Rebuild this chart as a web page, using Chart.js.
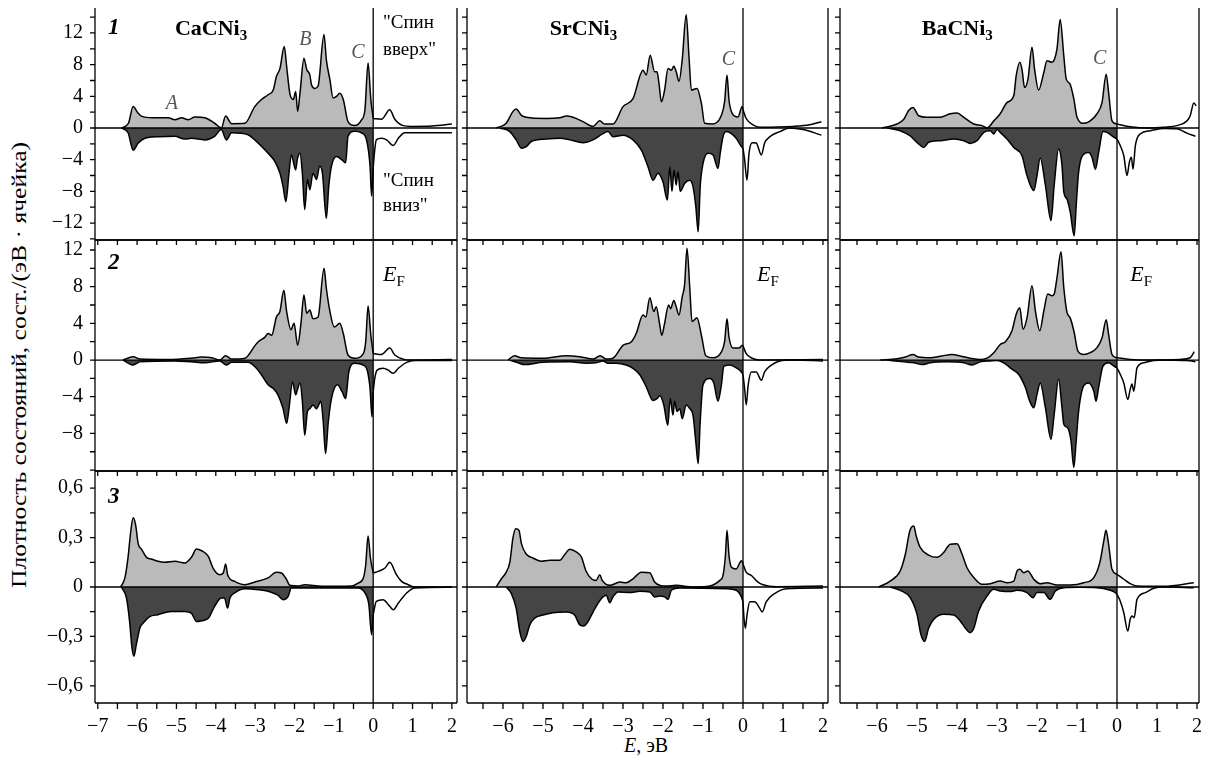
<!DOCTYPE html>
<html>
<head>
<meta charset="utf-8">
<script src="https://cdn.jsdelivr.net/npm/chart.js@4.4.1/dist/chart.umd.min.js"></script>
<style>
body{margin:0;background:#fff;width:1207px;height:760px;position:relative;overflow:hidden;font-family:"Liberation Serif",serif}
canvas{position:absolute}
#ytitle{position:absolute;left:19px;top:365px;transform:translate(-50%,-50%) rotate(-90deg) scaleX(1.28);white-space:nowrap;font-size:20px}
#xtitle{position:absolute;left:646px;top:745px;transform:translate(-50%,-50%);white-space:nowrap;font-size:20px}
</style>
</head>
<body>
<div id="ytitle">Плотность состояний, сост./(эВ · ячейка)</div>
<div id="xtitle"><i>E</i>, эВ</div>
<script>

// ---- DATA: [E (эВ), DOS] pairs ----
// row 1 (total DOS)
const ca1Up = [[-6.40,0],[-6.22,0.6],[-6.10,2.7],[-5.98,1.9],[-5.89,1.5],[-5.60,1.3],[-5.21,1.3],[-5.04,1.05],[-4.87,1.3],[-4.70,1.05],[-4.53,1.4],[-4.28,1.3],[-4.03,0.6],[-3.86,0],[-3.75,1.5],[-3.60,0.55],[-3.26,0.6],[-3.01,2.7],[-2.84,3.6],[-2.67,4.2],[-2.54,4.8],[-2.46,6.5],[-2.37,7.5],[-2.26,10.3],[-2.20,7.8],[-2.12,4.4],[-2.03,3.6],[-1.97,4.6],[-1.92,2.1],[-1.86,4.4],[-1.76,8.8],[-1.69,7.4],[-1.61,6.7],[-1.57,5.5],[-1.48,5.0],[-1.40,5.3],[-1.25,11.8],[-1.19,8.6],[-1.10,6.1],[-1.02,3.8],[-0.93,4.0],[-0.85,4.4],[-0.76,3.6],[-0.64,0.8],[-0.47,0.3],[-0.30,1.0],[-0.21,2.3],[-0.13,8.2],[-0.06,3.6],[0,1.2],[0.21,1.1],[0.42,2.3],[0.55,1.1],[0.76,0.3],[0.97,0.2],[1.5,0.25],[2.0,0.5]]
const ca1Dn = [[-6.40,0],[-6.23,-0.6],[-6.10,-2.8],[-5.97,-1.9],[-5.80,-1.3],[-5.46,-1.1],[-5.04,-1.05],[-4.79,-1.4],[-4.62,-1.3],[-4.28,-1.5],[-4.03,-1.05],[-3.86,-0.2],[-3.73,-1.5],[-3.60,-0.6],[-3.18,-0.85],[-3.01,-1.5],[-2.84,-2.3],[-2.67,-3.2],[-2.50,-4.2],[-2.37,-5.7],[-2.29,-7.4],[-2.22,-9.3],[-2.14,-5.7],[-2.08,-3.4],[-1.97,-5.3],[-1.93,-4.0],[-1.86,-3.2],[-1.80,-5.7],[-1.74,-10.3],[-1.67,-6.5],[-1.61,-7.8],[-1.53,-5.7],[-1.44,-6.5],[-1.36,-4.8],[-1.29,-5.7],[-1.19,-11.4],[-1.13,-7.4],[-1.06,-4.8],[-0.93,-3.6],[-0.80,-4.0],[-0.70,-4.4],[-0.64,-1.05],[-0.47,-0.4],[-0.30,-0.6],[-0.17,-1.5],[-0.08,-4.8],[-0.04,-8.6],[0,-5.0],[0.03,-3.2],[0.08,-1.5],[0.21,-1.3],[0.34,-1.5],[0.51,-2.2],[0.64,-1.3],[0.80,-0.6],[1.15,-0.6],[2.0,-0.6]]
const sr1Up = [[-6.17,0],[-5.92,0.6],[-5.75,2.1],[-5.67,2.4],[-5.54,1.6],[-5.42,1.35],[-4.92,1.2],[-4.58,1.3],[-4.42,1.5],[-4.25,1.35],[-4.0,0.8],[-3.75,0.2],[-3.58,0.9],[-3.46,0.5],[-3.25,0.5],[-3.0,2.7],[-2.75,3.7],[-2.5,7.3],[-2.42,6.7],[-2.32,9.2],[-2.21,7.1],[-2.15,7.1],[-2.1,5.6],[-2.04,3.3],[-1.96,4.8],[-1.875,7.5],[-1.79,7.3],[-1.73,7.8],[-1.67,7.1],[-1.6,5.9],[-1.52,8.6],[-1.42,14.3],[-1.35,9.0],[-1.29,4.8],[-1.15,5.0],[-1.04,3.1],[-0.96,0.6],[-0.75,0.5],[-0.54,1.6],[-0.46,3.3],[-0.4,6.7],[-0.35,3.5],[-0.27,1.85],[-0.125,1.4],[-0.02,2.7],[0,2.3],[0.08,1.2],[0.25,0.4],[0.42,0.1],[1.25,0.2],[1.67,0.4],[1.96,0.8]]
const sr1Dn = [[-6.08,0],[-5.83,-0.45],[-5.67,-1.5],[-5.54,-2.55],[-5.42,-2.35],[-5.29,-1.7],[-4.92,-1.4],[-4.58,-1.3],[-4.33,-1.5],[-4.0,-1.85],[-3.75,-1.5],[-3.5,-0.7],[-3.375,-0.45],[-3.25,-1.1],[-3.0,-0.9],[-2.75,-1.5],[-2.54,-2.8],[-2.375,-4.9],[-2.25,-6.6],[-2.125,-5.7],[-2.0,-6.8],[-1.89,-9.1],[-1.83,-4.9],[-1.775,-8.0],[-1.725,-5.3],[-1.67,-7.2],[-1.625,-5.5],[-1.57,-8.0],[-1.46,-7.0],[-1.33,-6.6],[-1.25,-7.4],[-1.18,-9.9],[-1.12,-13.1],[-1.07,-7.4],[-1.0,-4.5],[-0.875,-3.2],[-0.75,-3.4],[-0.625,-5.1],[-0.57,-3.2],[-0.5,-1.1],[-0.42,-0.45],[-0.29,-0.7],[-0.17,-1.3],[-0.04,-2.35],[0,-2.55],[0.04,-4.0],[0.1,-6.6],[0.15,-3.2],[0.23,-1.85],[0.33,-1.9],[0.46,-3.4],[0.54,-1.9],[0.67,-1.1],[0.92,-0.45],[1.17,0],[1.5,-0.2],[1.96,-0.9]]
const ba1Up = [[-5.875,0],[-5.5,0.5],[-5.33,1.1],[-5.21,2.2],[-5.1,2.6],[-4.96,1.55],[-4.75,1.35],[-4.42,1.35],[-4.17,1.8],[-4.0,1.9],[-3.83,1.35],[-3.58,0.5],[-3.375,0.3],[-3.25,0],[-3.08,0.9],[-2.92,1.8],[-2.75,3.2],[-2.58,4.1],[-2.52,6.6],[-2.43,8.3],[-2.375,7.4],[-2.31,5.1],[-2.225,6.2],[-2.125,10.2],[-2.06,7.4],[-1.96,4.8],[-1.83,7.0],[-1.75,8.5],[-1.625,8.3],[-1.57,8.6],[-1.5,10.0],[-1.42,13.7],[-1.33,9.1],[-1.27,6.2],[-1.18,5.6],[-1.08,3.7],[-1.0,1.35],[-0.83,0.6],[-0.67,0.9],[-0.5,1.8],[-0.375,3.2],[-0.27,6.8],[-0.21,4.5],[-0.125,0.9],[0,0.5],[0.33,0.15],[0.83,0],[1.17,0.1],[1.5,0.3],[1.75,0.9],[1.83,1.55],[1.92,3.15],[1.98,2.8]]
const ba1Dn = [[-5.75,0],[-5.42,-0.35],[-5.17,-1.0],[-4.96,-2.0],[-4.83,-2.45],[-4.71,-1.8],[-4.42,-1.6],[-4.08,-1.4],[-3.83,-1.6],[-3.67,-1.95],[-3.5,-1.6],[-3.33,-0.55],[-3.17,-0.35],[-3.08,-0.75],[-3.0,-0.2],[-2.92,-0.55],[-2.75,-1.4],[-2.58,-2.45],[-2.375,-3.5],[-2.25,-6.0],[-2.08,-7.9],[-2.0,-6.0],[-1.92,-3.8],[-1.79,-7.2],[-1.65,-11.7],[-1.57,-7.2],[-1.46,-2.65],[-1.375,-4.75],[-1.33,-8.1],[-1.25,-9.0],[-1.17,-10.6],[-1.07,-13.6],[-1.02,-9.8],[-0.96,-5.6],[-0.83,-3.3],[-0.71,-3.1],[-0.625,-3.7],[-0.54,-5.2],[-0.46,-3.1],[-0.35,-0.45],[-0.25,-0.55],[-0.125,-1.0],[0,-1.4],[0.08,-2.2],[0.17,-3.5],[0.25,-6.0],[0.31,-4.3],[0.36,-3.7],[0.4,-5.2],[0.46,-2.2],[0.58,-0.75],[0.83,-0.35],[1.17,-0.05],[1.5,-0.1],[1.75,-0.65],[1.96,-1.05]]
// row 2
const ca2Up = [[-6.36,0],[-6.1,0.36],[-5.93,0.1],[-5.2,0.05],[-4.62,0.2],[-4.36,0.33],[-4.1,0.25],[-3.9,0],[-3.75,0.47],[-3.6,0.1],[-3.26,0.2],[-3.0,1.6],[-2.92,2.0],[-2.75,2.5],[-2.67,2.9],[-2.58,2.7],[-2.46,4.7],[-2.37,5.3],[-2.27,7.6],[-2.2,5.3],[-2.09,3.3],[-2.01,4.0],[-1.92,1.6],[-1.84,3.8],[-1.76,7.1],[-1.69,5.1],[-1.61,5.45],[-1.53,4.5],[-1.40,4.7],[-1.25,10.0],[-1.19,7.8],[-1.10,5.3],[-0.99,3.6],[-0.85,4.0],[-0.76,2.9],[-0.64,0.55],[-0.47,0.2],[-0.25,0.7],[-0.19,2.0],[-0.13,5.9],[-0.06,2.7],[0,0.7],[0.21,0.6],[0.42,1.3],[0.55,0.55],[0.76,0.1],[0.97,0],[2.0,0.05]]
const ca2Dn = [[-6.36,0],[-6.1,-0.55],[-5.93,-0.2],[-5.04,-0.1],[-4.62,-0.2],[-4.28,-0.3],[-3.9,-0.1],[-3.73,-0.55],[-3.6,-0.25],[-3.18,-0.25],[-3.01,-0.7],[-2.84,-1.6],[-2.67,-2.7],[-2.54,-3.1],[-2.42,-3.8],[-2.29,-5.3],[-2.20,-6.9],[-2.14,-5.3],[-2.05,-2.4],[-1.97,-3.8],[-1.93,-3.3],[-1.86,-2.5],[-1.80,-4.5],[-1.74,-8.2],[-1.67,-5.6],[-1.61,-5.3],[-1.53,-4.9],[-1.44,-5.3],[-1.33,-4.5],[-1.27,-6.7],[-1.21,-10.2],[-1.14,-6.7],[-1.06,-4.2],[-0.91,-2.7],[-0.79,-3.45],[-0.70,-4.2],[-0.62,-1.3],[-0.47,-0.35],[-0.25,-0.55],[-0.14,-1.3],[-0.08,-3.1],[-0.03,-6.2],[0,-3.45],[0.04,-2.0],[0.1,-1.1],[0.25,-0.9],[0.38,-1.1],[0.51,-1.45],[0.64,-0.9],[0.85,-0.25],[1.06,-0.05],[2.0,-0.05]]
const sr2Up = [[-5.875,0],[-5.71,0.47],[-5.55,0.25],[-5.0,0.2],[-4.42,0.47],[-4.08,0.36],[-3.75,0.1],[-3.57,0.47],[-3.42,0.1],[-3.25,0.2],[-3.0,1.6],[-2.79,2.0],[-2.67,2.9],[-2.5,4.9],[-2.43,4.7],[-2.33,6.8],[-2.23,5.3],[-2.17,5.8],[-2.08,3.8],[-2.03,2.7],[-1.96,4.0],[-1.86,6.0],[-1.81,5.6],[-1.73,6.5],[-1.67,5.8],[-1.6,4.9],[-1.52,6.9],[-1.46,8.2],[-1.4,12.2],[-1.33,7.8],[-1.275,4.2],[-1.15,4.6],[-1.04,2.7],[-0.93,0.47],[-0.75,0.25],[-0.54,0.9],[-0.46,2.0],[-0.4,4.5],[-0.35,2.5],[-0.25,1.3],[-0.1,1.3],[-0.02,1.6],[0,1.55],[0.08,0.7],[0.23,0.2],[0.42,0],[2.0,0.05]]
const sr2Dn = [[-5.83,0],[-5.625,-0.3],[-5.46,-0.5],[-5.0,-0.25],[-4.33,-0.2],[-3.92,-0.35],[-3.67,-0.3],[-3.5,-0.1],[-3.375,-0.36],[-3.17,-0.36],[-2.92,-0.55],[-2.75,-0.9],[-2.58,-1.6],[-2.42,-2.9],[-2.25,-4.4],[-2.15,-4.2],[-2.08,-3.9],[-1.98,-4.9],[-1.88,-7.1],[-1.82,-4.2],[-1.75,-6.0],[-1.71,-4.5],[-1.65,-5.6],[-1.58,-5.3],[-1.52,-6.4],[-1.42,-4.9],[-1.33,-5.3],[-1.25,-6.0],[-1.18,-8.9],[-1.12,-11.3],[-1.07,-6.7],[-1.0,-2.7],[-0.83,-2.0],[-0.73,-2.5],[-0.625,-4.5],[-0.54,-2.7],[-0.48,-0.7],[-0.33,-0.55],[-0.17,-0.85],[-0.04,-1.3],[0,-1.6],[0.04,-3.1],[0.08,-4.9],[0.13,-2.7],[0.21,-1.3],[0.33,-1.3],[0.46,-2.2],[0.54,-1.3],[0.71,-0.55],[0.92,-0.1],[1.25,0],[2.0,-0.1]]
const ba2Up = [[-5.92,0],[-5.5,0.15],[-5.29,0.33],[-5.1,0.6],[-4.96,0.33],[-4.67,0.25],[-4.375,0.45],[-4.125,0.6],[-3.92,0.45],[-3.67,0.2],[-3.42,0.05],[-3.25,0.2],[-3.08,0.8],[-2.92,1.7],[-2.79,2.0],[-2.625,3.2],[-2.52,5.0],[-2.43,5.7],[-2.35,3.35],[-2.25,4.6],[-2.125,8.1],[-2.04,5.35],[-1.93,3.2],[-1.83,5.35],[-1.73,7.2],[-1.625,7.0],[-1.57,7.2],[-1.5,9.0],[-1.4,11.8],[-1.33,7.9],[-1.25,5.2],[-1.17,4.6],[-1.07,3.0],[-0.98,1.0],[-0.83,0.6],[-0.67,0.8],[-0.5,1.35],[-0.375,2.4],[-0.27,4.4],[-0.21,2.8],[-0.125,0.6],[0,0.25],[0.33,0.07],[0.83,0],[1.58,0.07],[1.83,0.25],[1.93,0.9]]
const ba2Dn = [[-5.75,0],[-5.33,-0.2],[-5.08,-0.3],[-4.875,-0.5],[-4.67,-0.3],[-4.25,-0.2],[-3.83,-0.3],[-3.625,-0.55],[-3.42,-0.2],[-3.17,-0.1],[-3.0,-0.05],[-2.83,-0.3],[-2.625,-1.0],[-2.46,-1.55],[-2.29,-3.0],[-2.18,-4.5],[-2.08,-5.2],[-2.0,-3.75],[-1.92,-2.5],[-1.79,-5.2],[-1.65,-8.65],[-1.57,-5.9],[-1.46,-2.1],[-1.375,-5.2],[-1.33,-7.0],[-1.23,-7.4],[-1.15,-8.8],[-1.08,-11.7],[-1.02,-8.8],[-0.96,-5.6],[-0.83,-2.8],[-0.71,-2.5],[-0.58,-3.4],[-0.525,-4.5],[-0.46,-3.0],[-0.35,-0.65],[-0.21,-0.3],[-0.08,-0.65],[0,-0.85],[0.08,-1.55],[0.17,-2.5],[0.27,-4.3],[0.33,-3.2],[0.375,-2.6],[0.42,-3.4],[0.5,-0.85],[0.67,-0.3],[0.92,-0.05],[1.17,0],[1.67,-0.05],[1.875,-0.1],[1.96,-0.2]]
// row 3
const ca3Up = [[-6.42,0],[-6.31,0.055],[-6.23,0.18],[-6.16,0.34],[-6.1,0.42],[-6.04,0.38],[-5.97,0.26],[-5.89,0.23],[-5.76,0.18],[-5.64,0.17],[-5.47,0.156],[-5.3,0.15],[-5.04,0.156],[-4.79,0.146],[-4.62,0.18],[-4.49,0.23],[-4.36,0.22],[-4.19,0.186],[-4.07,0.115],[-3.9,0.075],[-3.81,0.085],[-3.75,0.14],[-3.7,0.075],[-3.52,0.034],[-3.26,0.014],[-3.01,0.03],[-2.67,0.055],[-2.46,0.09],[-2.33,0.085],[-2.2,0.045],[-2.12,0.01],[-1.91,0.006],[-1.74,0.014],[-1.3,0.004],[-0.55,0.006],[-0.38,0.024],[-0.25,0.055],[-0.19,0.135],[-0.13,0.31],[-0.07,0.176],[0,0.085],[0.13,0.095],[0.3,0.115],[0.42,0.15],[0.59,0.075],[0.72,0.034],[0.89,0.014],[1.06,0],[2.0,0]]
const ca3Dn = [[-6.4,0],[-6.27,-0.067],[-6.19,-0.21],[-6.13,-0.37],[-6.08,-0.42],[-6.02,-0.35],[-5.93,-0.25],[-5.81,-0.21],[-5.68,-0.18],[-5.47,-0.168],[-5.13,-0.148],[-4.79,-0.148],[-4.62,-0.158],[-4.49,-0.21],[-4.36,-0.205],[-4.19,-0.19],[-4.03,-0.117],[-3.86,-0.067],[-3.78,-0.067],[-3.7,-0.128],[-3.64,-0.067],[-3.52,-0.036],[-3.26,-0.01],[-2.92,-0.016],[-2.67,-0.026],[-2.42,-0.05],[-2.29,-0.077],[-2.16,-0.057],[-2.08,-0.006],[-1.65,-0.006],[-0.38,-0.006],[-0.21,-0.036],[-0.11,-0.107],[-0.04,-0.29],[0,-0.168],[0.08,-0.087],[0.25,-0.077],[0.42,-0.117],[0.51,-0.138],[0.64,-0.097],[0.85,-0.036],[1.06,-0.006],[2.0,-0.002]]
const sr3Up = [[-6.17,0],[-6.04,0.05],[-5.92,0.09],[-5.83,0.15],[-5.75,0.30],[-5.68,0.354],[-5.6,0.344],[-5.54,0.263],[-5.42,0.2],[-5.25,0.176],[-5.04,0.156],[-4.83,0.162],[-4.58,0.162],[-4.46,0.196],[-4.33,0.229],[-4.17,0.213],[-4.04,0.182],[-3.93,0.1],[-3.79,0.05],[-3.67,0.04],[-3.58,0.075],[-3.52,0.04],[-3.33,0.01],[-3.08,0.03],[-2.92,0.026],[-2.75,0.05],[-2.54,0.09],[-2.33,0.087],[-2.21,0.03],[-2.08,0.01],[-1.92,0.006],[-1.67,0.01],[-1.25,0.0],[-0.83,0.006],[-0.58,0.04],[-0.5,0.07],[-0.44,0.19],[-0.4,0.344],[-0.35,0.19],[-0.29,0.12],[-0.17,0.11],[-0.04,0.16],[0,0.14],[0.08,0.09],[0.21,0.07],[0.375,0.03],[0.5,0.014],[0.83,0.002],[2.0,0.006]]
const sr3Dn = [[-5.92,0],[-5.79,-0.04],[-5.67,-0.13],[-5.58,-0.27],[-5.5,-0.33],[-5.42,-0.3],[-5.33,-0.23],[-5.21,-0.19],[-5.0,-0.17],[-4.75,-0.156],[-4.42,-0.152],[-4.21,-0.17],[-4.08,-0.23],[-3.98,-0.237],[-3.875,-0.21],[-3.75,-0.152],[-3.54,-0.07],[-3.42,-0.05],[-3.33,-0.095],[-3.25,-0.06],[-3.125,-0.03],[-2.83,-0.034],[-2.58,-0.026],[-2.33,-0.03],[-2.21,-0.06],[-2.08,-0.055],[-1.96,-0.06],[-1.875,-0.075],[-1.79,-0.02],[-1.58,-0.006],[-0.42,-0.01],[-0.17,-0.02],[-0.04,-0.06],[0,-0.09],[0.025,-0.19],[0.06,-0.25],[0.1,-0.17],[0.17,-0.09],[0.29,-0.09],[0.42,-0.13],[0.48,-0.152],[0.58,-0.09],[0.79,-0.04],[1.08,-0.01],[2.0,-0.006]]
const ba3Up = [[-5.96,0],[-5.67,0.036],[-5.42,0.097],[-5.29,0.2],[-5.18,0.34],[-5.08,0.37],[-5.02,0.31],[-4.92,0.24],[-4.71,0.194],[-4.5,0.18],[-4.33,0.21],[-4.17,0.26],[-4.0,0.263],[-3.875,0.2],[-3.75,0.117],[-3.58,0.057],[-3.375,0.016],[-3.17,0.02],[-2.92,0.036],[-2.75,0.026],[-2.58,0.036],[-2.5,0.097],[-2.43,0.107],[-2.33,0.087],[-2.23,0.097],[-2.08,0.047],[-1.92,0.02],[-1.75,0.026],[-1.5,0.012],[-1.17,0.012],[-0.83,0.026],[-0.58,0.057],[-0.43,0.148],[-0.33,0.28],[-0.275,0.344],[-0.21,0.26],[-0.125,0.107],[0,0.077],[0.17,0.047],[0.33,0.02],[0.5,0.006],[1.17,0.004],[1.92,0.026]]
const ba3Dn = [[-5.67,0],[-5.42,-0.02],[-5.17,-0.065],[-5.0,-0.166],[-4.9,-0.29],[-4.81,-0.33],[-4.71,-0.25],[-4.58,-0.196],[-4.33,-0.166],[-4.08,-0.17],[-3.92,-0.206],[-3.79,-0.25],[-3.68,-0.277],[-3.58,-0.25],[-3.46,-0.146],[-3.25,-0.055],[-3.08,-0.014],[-2.92,-0.024],[-2.67,-0.028],[-2.5,-0.02],[-2.25,-0.034],[-2.1,-0.065],[-2.0,-0.034],[-1.83,-0.034],[-1.67,-0.075],[-1.54,-0.024],[-1.33,-0.004],[-0.92,-0.002],[-0.5,-0.004],[-0.17,-0.02],[-0.04,-0.034],[0,-0.045],[0.08,-0.085],[0.17,-0.156],[0.27,-0.267],[0.33,-0.196],[0.375,-0.176],[0.43,-0.186],[0.5,-0.075],[0.71,-0.034],[0.92,-0.008],[1.17,0],[1.92,-0.004]]

// ticks and tick labels
const xTicks = [-7,-6.5,-6,-5.5,-5,-4.5,-4,-3.5,-3,-2.5,-2,-1.5,-1,-0.5,0,0.5,1,1.5,2]
const xLabels = [-7,-6,-5,-4,-3,-2,-1,0,1,2]
const yTicks = [
  [-14,-12,-10,-8,-6,-4,-2,0,2,4,6,8,10,12,14],
  [-12,-10,-8,-6,-4,-2,0,2,4,6,8,10,12],
  [-0.6,-0.45,-0.3,-0.15,0,0.15,0.3,0.45,0.6]
]
const yLabels = [
  [12,8,4,0,-4,-8,-12],
  [12,8,4,0,-4,-8],
  [0.6,0.3,0,-0.3,-0.6]
]

// layout (pixel boxes of the panels, axis ranges)
const colBox = [[95,457],[467,828],[840,1199]]
const colRange = [[-7.07,2.13],[-6.9,2.125],[-6.925,2.05]]
const rowBox = [[8,240],[240,471],[471,703]]
const rowRange = [[-14.14,15.15],[-12.1,13.09],[-0.704,0.704]]

const SERIF = '"Liberation Serif", "Times New Roman", serif'
const LIGHT = '#bababa'
const DARK = '#454545'

function fmt(v){
  let s = String(Math.round(v*100)/100).replace('.',',')
  return v < 0 ? '\u2212' + s.slice(1) : s
}

const notes = {
  '0-0':[
    {e:-6.74,v:12.6,parts:[{t:'1',f:'italic bold 23px'}]},
    {e:-5.04,v:12.4,parts:[{t:'CaCNi',f:'bold 22px'},{t:'3',f:'bold 15px',dy:6}]},
    {e:-5.27,v:3.0,parts:[{t:'A',f:'italic 20px'}],c:'#555'},
    {e:-1.88,v:11.1,parts:[{t:'B',f:'italic 20px'}],c:'#555'},
    {e:-0.56,v:9.5,parts:[{t:'C',f:'italic 20px'}],c:'#555'},
    {e:0.25,v:13.3,parts:[{t:'"Спин',f:'19px'}]},
    {e:0.25,v:9.85,parts:[{t:'вверх"',f:'19px'}]},
    {e:0.25,v:-6.7,parts:[{t:'"Спин',f:'19px'}]},
    {e:0.25,v:-9.85,parts:[{t:'вниз"',f:'19px'}]}
  ],
  '0-1':[
    {e:-4.83,v:12.4,parts:[{t:'SrCNi',f:'bold 22px'},{t:'3',f:'bold 15px',dy:6}]},
    {e:-0.53,v:8.6,parts:[{t:'C',f:'italic 20px'}],c:'#555'}
  ],
  '0-2':[
    {e:-4.88,v:12.4,parts:[{t:'BaCNi',f:'bold 22px'},{t:'3',f:'bold 15px',dy:6}]},
    {e:-0.6,v:8.8,parts:[{t:'C',f:'italic 20px'}],c:'#555'}
  ],
  '1-0':[
    {e:-6.74,v:10.6,parts:[{t:'2',f:'italic bold 23px'}]},
    {e:0.25,v:9.2,parts:[{t:'E',f:'italic 22px'},{t:'F',f:'15px',dy:6}]}
  ],
  '1-1':[{e:0.35,v:9.2,parts:[{t:'E',f:'italic 22px'},{t:'F',f:'15px',dy:6}]}],
  '1-2':[{e:0.33,v:9.2,parts:[{t:'E',f:'italic 22px'},{t:'F',f:'15px',dy:6}]}],
  '2-0':[{e:-6.74,v:0.546,parts:[{t:'3',f:'italic bold 23px'}]}]
}

const series = [
  [[ca1Up,ca1Dn],[sr1Up,sr1Dn],[ba1Up,ba1Dn]],
  [[ca2Up,ca2Dn],[sr2Up,sr2Dn],[ba2Up,ba2Dn]],
  [[ca3Up,ca3Dn],[sr3Up,sr3Dn],[ba3Up,ba3Dn]]
]

// frame, ticks, zero line, E_F line, labels
const framePlugin = {
  id:'frame',
  afterDatasetsDraw(chart){
    const {ctx, chartArea:a, scales:{x,y}} = chart
    const o = chart.options.plugins.frame
    ctx.save()
    ctx.strokeStyle = '#000'
    ctx.lineWidth = 1.3
    ctx.beginPath()
    // box
    ctx.moveTo(a.left,a.top); ctx.lineTo(a.left,a.bottom)
    ctx.moveTo(a.right,a.top); ctx.lineTo(a.right,a.bottom)
    ctx.moveTo(a.left,a.bottom); ctx.lineTo(a.right,a.bottom)
    if(o.row>0){ ctx.moveTo(a.left,a.top); ctx.lineTo(a.right,a.top) }
    // zero line and E_F
    const y0 = y.getPixelForValue(0), x0 = x.getPixelForValue(0)
    ctx.moveTo(a.left,y0); ctx.lineTo(a.right,y0)
    ctx.moveTo(x0,a.top); ctx.lineTo(x0,a.bottom)
    // y ticks (outward, left)
    yTicks[o.row].forEach(v=>{
      const py = y.getPixelForValue(v)
      if(py < a.top-0.5 || py > a.bottom+0.5) return
      ctx.moveTo(a.left-5,py); ctx.lineTo(a.left,py)
    })
    // x ticks hang below the top edge, and below the bottom edge on the last row
    xTicks.forEach(v=>{
      const px = x.getPixelForValue(v)
      if(px < a.left || px > a.right) return
      if(o.row>0){ ctx.moveTo(px,a.top); ctx.lineTo(px,a.top+5) }
      if(o.row===2){ ctx.moveTo(px,a.bottom); ctx.lineTo(px,a.bottom+6) }
    })
    ctx.stroke()
    // labels
    ctx.textBaseline = 'middle'
    ctx.textAlign = 'left'
    ;(notes[o.row+'-'+o.col]||[]).forEach(n=>{
      let px = x.getPixelForValue(n.e)
      const py = y.getPixelForValue(n.v)
      ctx.fillStyle = n.c || '#000'
      n.parts.forEach(p=>{
        ctx.font = p.f + ' ' + SERIF
        ctx.fillText(p.t, px, py + (p.dy||0))
        px += ctx.measureText(p.t).width
      })
    })
    ctx.restore()
  }
}

function makePanel(row,col){
  const [up,dn] = series[row][col]
  const L = col===0 ? 95 : 12, T = 8, R = 8, B = row===2 ? 52 : 4
  const bx = colBox[col], by = rowBox[row]
  const cv = document.createElement('canvas')
  const w = bx[1]-bx[0]+L+R, h = by[1]-by[0]+T+B
  cv.width = w; cv.height = h
  cv.style.left = (bx[0]-L)+'px'; cv.style.top = (by[0]-T)+'px'
  cv.style.width = w+'px'; cv.style.height = h+'px'
  document.body.appendChild(cv)

  const pts = arr => arr.map(p=>({x:p[0],y:p[1]}))
  const occ = arr => pts(arr.filter(p=>p[0]<=0))
  const emp = arr => pts(arr.filter(p=>p[0]>=0))
  const line = {borderColor:'#000',borderWidth:1.5,pointRadius:0,cubicInterpolationMode:'monotone'}

  new Chart(cv,{
    type:'line',
    data:{datasets:[
      {...line,data:occ(up),fill:'origin',backgroundColor:LIGHT},
      {...line,data:occ(dn),fill:'origin',backgroundColor:DARK},
      {...line,data:emp(up),fill:false},
      {...line,data:emp(dn),fill:false}
    ]},
    options:{
      responsive:false,
      animation:false,
      devicePixelRatio:1,
      layout:{padding:{left:0,top:T,right:R,bottom:0}},
      plugins:{legend:{display:false},tooltip:{enabled:false},frame:{row,col}},
      scales:{
        x:{
          type:'linear',min:colRange[col][0],max:colRange[col][1],
          grid:{display:false,drawTicks:false},border:{display:false},
          afterBuildTicks:s=>{s.ticks = xLabels.filter(v=>v>=s.min&&v<=s.max).map(v=>({value:v}))},
          ticks:{display:row===2,maxRotation:0,autoSkip:false,padding:12,color:'#000',
            font:{family:SERIF,size:20},callback:v=>fmt(v)},
          afterFit:s=>{s.height=B;s.paddingLeft=0;s.paddingRight=0}
        },
        y:{
          type:'linear',min:rowRange[row][0],max:rowRange[row][1],
          grid:{display:false,drawTicks:false},border:{display:false},
          afterBuildTicks:s=>{s.ticks = yLabels[row].map(v=>({value:v}))},
          ticks:{display:col===0,autoSkip:false,padding:12,color:'#000',
            font:{family:SERIF,size:20},callback:v=>fmt(v)},
          afterFit:s=>{s.width=L;s.paddingTop=0;s.paddingBottom=0}
        }
      }
    },
    plugins:[framePlugin]
  })
}

for(let r=0;r<3;r++) for(let c=0;c<3;c++) makePanel(r,c)
</script>
</body>
</html>
